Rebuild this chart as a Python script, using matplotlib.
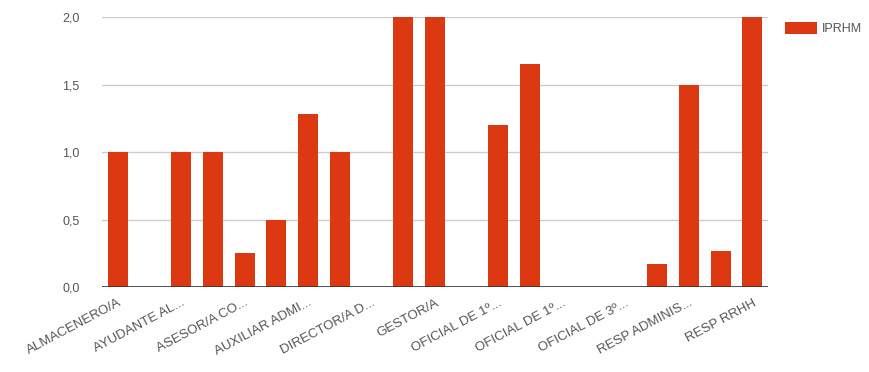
import matplotlib.pyplot as plt
from matplotlib.ticker import FuncFormatter

# one value per category; only every other category gets a visible label
values = [1.0, 0.0, 1.0, 1.0, 0.25, 0.5, 1.28, 1.0, 0.0, 2.0, 2.0,
          0.0, 1.2, 1.65, 0.0, 0.0, 0.0, 0.17, 1.5, 0.27, 2.0]
tick_labels = ["ALMACENERO/A", "AYUDANTE AL...", "ASESOR/A CO...",
               "AUXILIAR ADMI...", "DIRECTOR/A D...", "GESTOR/A",
               "OFICIAL DE 1º...", "OFICIAL DE 1º...", "OFICIAL DE 3º...",
               "RESP ADMINIS...", "RESP RRHH"]
series_name = "IPRHM"
y_ticks = [0.0, 0.5, 1.0, 1.5, 2.0]

bar_color = "#dc3912"
text_color = "#555555"

fig = plt.figure(figsize=(8.7, 3.72), dpi=100)
ax = fig.add_axes([0.117, 0.228, 0.766, 0.726])

positions = range(len(values))
bars = ax.bar(positions, values, width=0.63, color=bar_color, label=series_name, zorder=3)

ax.set_xlim(-0.5, len(values) - 0.5)
ax.set_ylim(0, 2.0)
ax.set_yticks(y_ticks)
ax.yaxis.set_major_formatter(FuncFormatter(lambda v, _: f"{v:.1f}".replace(".", ",")))
ax.grid(axis="y", color="#cccccc", linewidth=1, zorder=0)
ax.axhline(0, color="#333333", linewidth=1.2, zorder=4)

ax.set_xticks(list(positions)[::2])
ax.set_xticklabels(tick_labels, rotation=28, ha="right", rotation_mode="anchor",
                   fontsize=9.5, color=text_color, family="Liberation Sans")
ax.tick_params(axis="x", length=0, pad=7)
ax.tick_params(axis="y", length=0, pad=16, labelsize=9, labelcolor=text_color)
for lbl in ax.get_yticklabels():
    lbl.set_family("Liberation Sans")

for side in ["top", "right", "left", "bottom"]:
    ax.spines[side].set_visible(False)

ax.legend(handles=[bars], labels=[series_name], loc="upper left",
          bbox_to_anchor=(1.008, 1.025), frameon=False, handlelength=2.6,
          handleheight=1.1, handletextpad=0.4,
          prop={"family": "Liberation Sans", "size": 9}, labelcolor=text_color)

fig.savefig("out.png", dpi=100)
